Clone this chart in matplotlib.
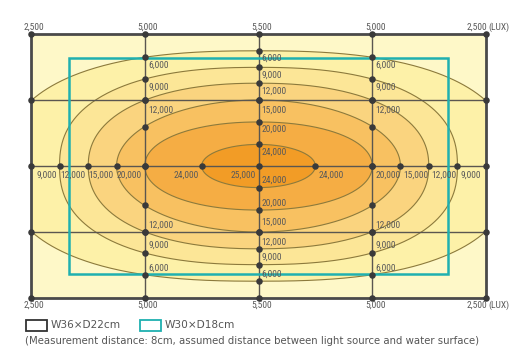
import numpy as np
import matplotlib
matplotlib.use("Agg")
import matplotlib.pyplot as plt
import matplotlib.transforms as mtransforms
from matplotlib import font_manager as fm

# ---------------- data (cm, lux) ----------------
grid_x = [-18, -9, 0, 9, 18]
grid_y = [11, 5.5, 0, -5.5, -11]
top_labels = ["2,500", "5,000", "5,500", "5,000", "2,500"]

levels = [6000, 9000, 12000, 15000, 20000, 24000]
level_labels = ["6,000", "9,000", "12,000", "15,000", "20,000", "24,000"]
half_width = [20.1, 15.74, 13.47, 11.23, 9.0, 4.5]      # crossing on centre row
half_height = [9.6, 8.22, 6.9, 5.5, 3.67, 1.8]          # crossing on centre column
shape_exp = [2.5, 2.4, 2.25, 2.0, 2.1, 2.0]
side_cross = [9.06, 7.22, 5.5, 3.28]                    # y where contour meets x=+-9
side_labelled = [True, True, True, False]
centre_value = "25,000"

inner_rect = (30, 18)    # W30 x D18
outer_rect = (36, 22)    # W36 x D22

band_colors = ["#fef8c8", "#fdf1a8", "#fce697", "#fad47f", "#f8c161", "#f5ad44", "#f29c26"]

# ---------------- fonts ----------------
available = {f.name for f in fm.fontManager.ttflist}
narrow = "DejaVu Sans"
for cand in ["Roboto Condensed", "Archivo Narrow", "PT Sans Narrow", "Liberation Sans Narrow",
             "Asap Condensed", "Liberation Sans"]:
    if cand in available:
        narrow = cand
        break

# ---------------- figure ----------------
W, H = 524, 361
fig = plt.figure(figsize=(W / 100, H / 100), dpi=100)
ax = fig.add_axes([31 / W, 1 - 298 / H, (486 - 31) / W, (298 - 34) / H])
ax.set_xlim(-18, 18)
ax.set_ylim(-11, 11)
ax.axis("off")

ax.add_patch(plt.Rectangle((-18, -11), 36, 22, facecolor=band_colors[0], edgecolor="none", zorder=0))

t = np.linspace(0, 2 * np.pi, 721)
for i, lev in enumerate(levels):
    a, b, n = half_width[i], half_height[i], shape_exp[i]
    c, s = np.cos(t), np.sin(t)
    x = a * np.sign(c) * np.abs(c) ** (2 / n)
    y = b * np.sign(s) * np.abs(s) ** (2 / n)
    ax.fill(x, y, facecolor=band_colors[i + 1], edgecolor="none", zorder=1 + i)
    ax.plot(x, y, color="#8c7a3c", lw=0.8, zorder=10)

# grid lines
for gx in grid_x[1:-1]:
    ax.plot([gx, gx], [-11, 11], color="#5a5650", lw=1.0, zorder=11)
for gy in grid_y[1:-1]:
    ax.plot([-18, 18], [gy, gy], color="#5a5650", lw=1.0, zorder=11)

# cyan rectangle
iw, ih = inner_rect
ax.add_patch(plt.Rectangle((-iw / 2, -ih / 2), iw, ih, fill=False, edgecolor="#1fb0b0", lw=1.8, zorder=12))
# outer border
ow, oh = outer_rect
ax.add_patch(plt.Rectangle((-ow / 2, -oh / 2), ow, oh, fill=False, edgecolor="#4a4a4a", lw=2.0, zorder=13, clip_on=False))

# dots
dots = [(gx, gy) for gx in grid_x for gy in grid_y]
for i in range(1, len(levels)):
    for sx in (-1, 1):
        dots.append((sx * half_width[i], 0))
for i in range(len(levels)):
    for sy in (-1, 1):
        dots.append((0, sy * half_height[i]))
for i in range(len(side_cross)):
    for sx in (-1, 1):
        for sy in (-1, 1):
            dots.append((sx * 9, sy * side_cross[i]))
dx_, dy_ = zip(*dots)
ax.scatter(dx_, dy_, s=22, color="#3a3a3a", zorder=14, clip_on=False, linewidths=0)

# ---------------- labels ----------------
lab_font = dict(family=narrow, size=6.8, color="#5a5a5a")
def off(dxp, dyp):
    return ax.transData + mtransforms.ScaledTranslation(dxp / 100, dyp / 100, fig.dpi_scale_trans)

# top / bottom edge labels
for k, (gx, lab) in enumerate(zip(grid_x, top_labels)):
    xo = 3 if k < 4 else -9
    ax.text(gx, 11, lab, transform=off(xo, 6.5), ha="center", va="center", zorder=20, **lab_font)
    ax.text(gx, -11, lab, transform=off(xo, -7.5), ha="center", va="center", zorder=20, **lab_font)
ax.text(18, 11, "(LUX)", transform=off(2, 6.5), ha="left", va="center", zorder=20, **lab_font)
ax.text(18, -11, "(LUX)", transform=off(2, -7.5), ha="left", va="center", zorder=20, **lab_font)

# column labels (x = -9, 9)
for i in range(len(side_cross)):
    if not side_labelled[i]:
        continue
    for gx in (-9, 9):
        yv = side_cross[i]
        extra = 3 if abs(yv - 5.5) < 0.01 else 0
        ax.text(gx, yv, level_labels[i], transform=off(3.5, -7.5 - extra), ha="left", va="center", zorder=20, **lab_font)
        ax.text(gx, -yv, level_labels[i], transform=off(3.5, 7.0), ha="left", va="center", zorder=20, **lab_font)
# centre column labels
for i in range(len(levels)):
    yv = half_height[i]
    extra = 2.5 if abs(yv - 5.5) < 0.01 else 0
    ax.text(0, yv, level_labels[i], transform=off(3, -7.5 - extra), ha="left", va="center", zorder=20, **lab_font)
    ax.text(0, -yv, level_labels[i], transform=off(3, 7.0 + extra), ha="left", va="center", zorder=20, **lab_font)

# centre row labels
for i in range(1, len(levels)):
    xv = half_width[i]
    ax.text(-xv, 0, level_labels[i], transform=off(-3, -9), ha="right", va="center", zorder=20, **lab_font)
    ax.text(xv, 0, level_labels[i], transform=off(3, -9), ha="left", va="center", zorder=20, **lab_font)
ax.text(0, 0, centre_value, transform=off(-3, -9), ha="right", va="center", zorder=20, **lab_font)

# ---------------- legend ----------------
leg_font = dict(family="DejaVu Sans", size=7.6, color="#555555")
fig.patches.append(plt.Rectangle((26 / W, 1 - 331 / H), 21 / W, 11 / H, transform=fig.transFigure,
                                 fill=False, edgecolor="#333333", lw=1.3))
fig.text(51 / W, 1 - 325 / H, "W36×D22cm", ha="left", va="center", **leg_font)
fig.patches.append(plt.Rectangle((140 / W, 1 - 331 / H), 21 / W, 11 / H, transform=fig.transFigure,
                                 fill=False, edgecolor="#1fb0b0", lw=1.3))
fig.text(165 / W, 1 - 325 / H, "W30×D18cm", ha="left", va="center", **leg_font)
fig.text(25 / W, 1 - 341 / H,
         "(Measurement distance: 8cm, assumed distance between light source and water surface)",
         ha="left", va="center", family="DejaVu Sans", size=7.25, color="#555555")

fig.savefig("out.png", dpi=100, facecolor="white")
